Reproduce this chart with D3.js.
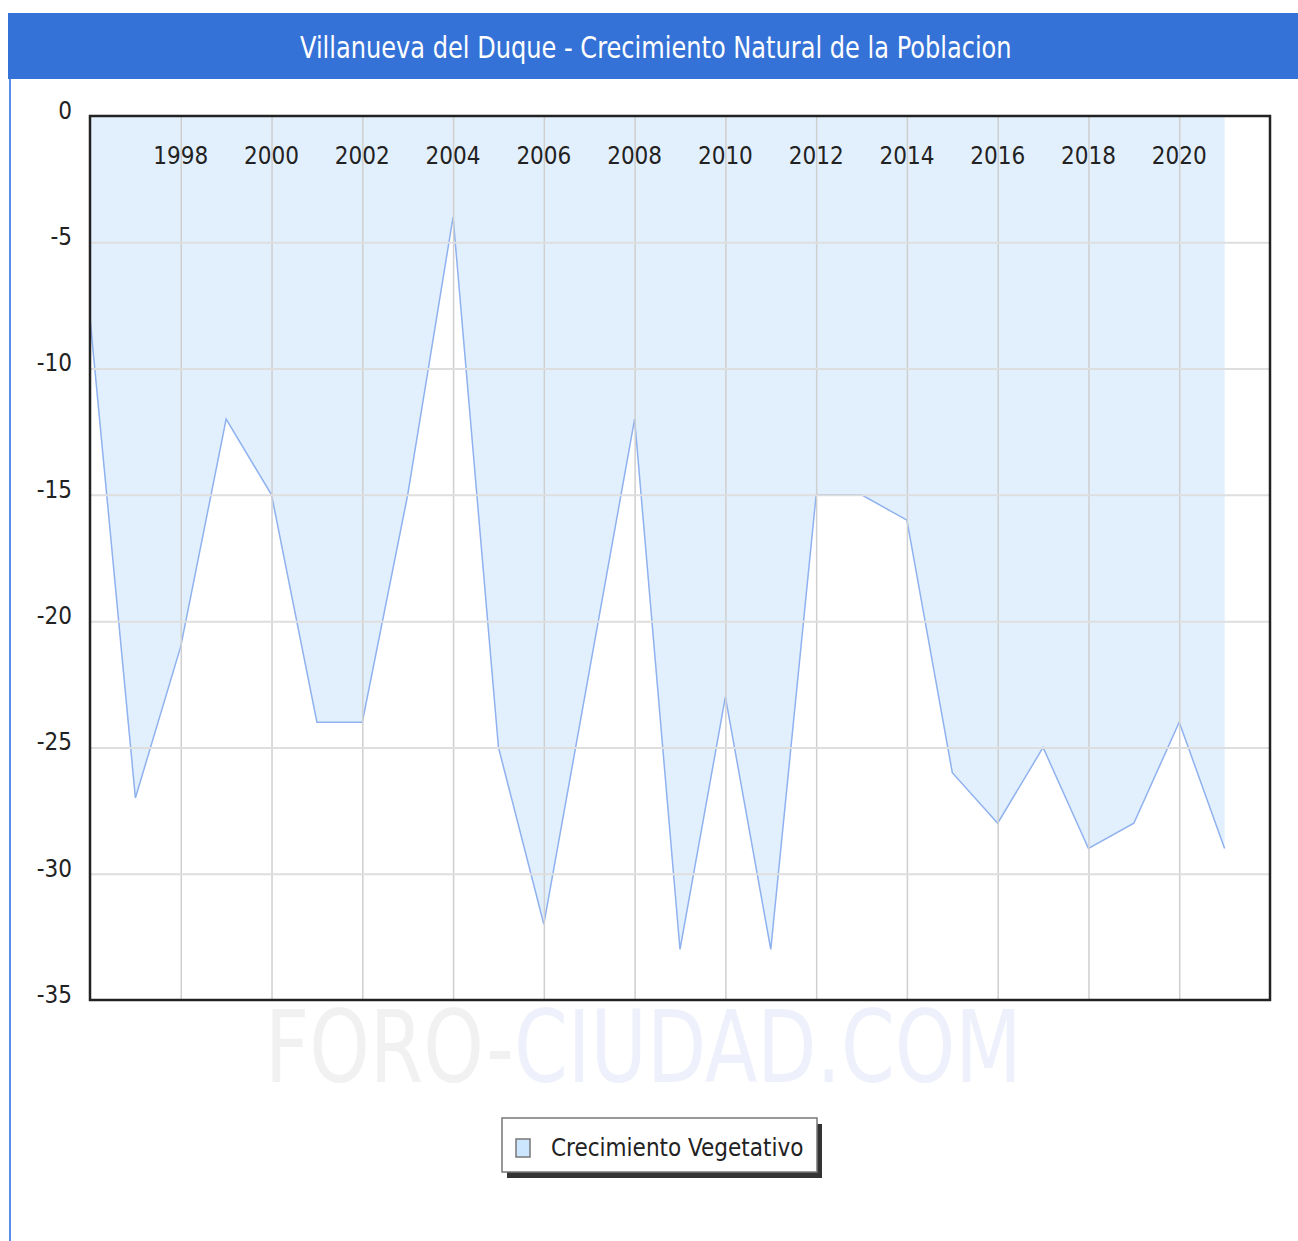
<!DOCTYPE html>
<html>
<head>
<meta charset="utf-8">
<script src="https://cdn.jsdelivr.net/npm/d3@7"></script>
<style>
    body { margin: 0; background: #fff; }
    text { font-family: "DejaVu Sans Condensed", "DejaVu Sans", sans-serif; font-stretch: condensed; }
</style>
</head>
<body>
<div id="svg-container"></div>
<script>
// data
const years = [1996, 1997, 1998, 1999, 2000, 2001, 2002, 2003, 2004, 2005, 2006, 2007, 2008,
    2009, 2010, 2011, 2012, 2013, 2014, 2015, 2016, 2017, 2018, 2019, 2020, 2021];
const crecimiento = [-8, -27, -21, -12, -15, -24, -24, -15, -4, -25, -32, -22, -12,
    -33, -23, -33, -15, -15, -16, -26, -28, -25, -29, -28, -24, -29];
const yearTicks = [1998, 2000, 2002, 2004, 2006, 2008, 2010, 2012, 2014, 2016, 2018, 2020];
const valueTicks = [0, -5, -10, -15, -20, -25, -30, -35];
const title = "Villanueva del Duque - Crecimiento Natural de la Poblacion";
const seriesName = "Crecimiento Vegetativo";

const width = 1298,
    height = 1241,
    plot = { left: 90, top: 116, right: 1270, bottom: 1000 };

const svg = d3.select("#svg-container").append("svg")
    .attr("width", width)
    .attr("height", height);

// squeeze a text horizontally to a given width (condensed look)
const squeeze = (sel, x0, y0, w) => {
    const len = sel.node().getComputedTextLength();
    sel.attr("transform", `translate(${x0},${y0}) scale(${w / len},1)`);
};

// title bar
svg.append("rect")
    .attr("x", 8).attr("y", 13)
    .attr("width", width - 8).attr("height", 66)
    .attr("fill", "#3572d7");
svg.append("line")
    .attr("x1", 10).attr("x2", 10)
    .attr("y1", 79).attr("y2", height)
    .attr("stroke", "#5b8fe6").attr("stroke-width", 2);
const tt = svg.append("text")
    .attr("fill", "#fff")
    .style("font-size", "30px")
    .text(title);
squeeze(tt, 300, 58, 712);

// scales
const x = d3.scaleLinear().domain([1996, 2022]).range([plot.left, plot.right]);
const y = d3.scaleLinear().domain([0, -35]).range([plot.top, plot.bottom]);

// watermark, two tints in one text
const wm = svg.append("text")
    .style("font-size", "100px");
wm.append("tspan").attr("fill", "#f1f1f1").text("FORO-");
wm.append("tspan").attr("fill", "#eef0fb").text("CIUDAD.COM");
squeeze(wm, 265, 1082, 757);

// filled area between 0 and the series
const pts = years.map((yr, i) => ({ yr: yr, v: crecimiento[i] }));
const area = d3.area()
    .x(d => x(d.yr))
    .y0(y(0))
    .y1(d => y(d.v));
svg.append("path")
    .datum(pts)
    .attr("d", area)
    .attr("fill", "#e2f0fe");

// series line
const line = d3.line()
    .x(d => x(d.yr))
    .y(d => y(d.v));
svg.append("path")
    .datum(pts)
    .attr("d", line)
    .attr("fill", "none")
    .attr("stroke", "#8fb1ef")
    .attr("stroke-width", 1.5);

// grid (drawn over the line like the original)
svg.append("g")
    .attr("transform", `translate(0,${plot.bottom})`)
    .call(d3.axisBottom(x).tickValues(yearTicks).tickSize(-(plot.bottom - plot.top)).tickFormat(""))
    .call(g => g.select(".domain").remove())
    .call(g => g.selectAll("line").attr("stroke", "#cfcfcf").attr("stroke-width", 1.5));
svg.append("g")
    .attr("transform", `translate(${plot.left},0)`)
    .call(d3.axisLeft(y).tickValues(valueTicks.slice(1, -1)).tickSize(-(plot.right - plot.left)).tickFormat(""))
    .call(g => g.select(".domain").remove())
    .call(g => g.selectAll("line").attr("stroke", "#dedede").attr("stroke-width", 2));

// plot frame
svg.append("rect")
    .attr("x", plot.left).attr("y", plot.top)
    .attr("width", plot.right - plot.left)
    .attr("height", plot.bottom - plot.top)
    .attr("fill", "none")
    .attr("stroke", "#222")
    .attr("stroke-width", 2.5);

// y labels, plain hyphen like the original
svg.append("g")
    .attr("transform", `translate(${plot.left},0)`)
    .call(d3.axisLeft(y).tickValues(valueTicks).tickSize(0).tickPadding(18).tickFormat(d => String(d)))
    .call(g => g.select(".domain").remove())
    .call(g => g.selectAll("text")
        .attr("fill", "#222")
        .style("font-size", "24px")
        .attr("dy", "0.1em"));

// x labels, inside the plot near the top
svg.append("g")
    .selectAll("text")
    .data(yearTicks)
    .join("text")
    .attr("x", d => x(d))
    .attr("y", 164)
    .attr("text-anchor", "middle")
    .attr("fill", "#222")
    .style("font-size", "24px")
    .text(d => d);

// legend
const lg = svg.append("g");
lg.append("rect")
    .attr("x", 507).attr("y", 1124)
    .attr("width", 315).attr("height", 54)
    .attr("fill", "#333");
lg.append("rect")
    .attr("x", 502).attr("y", 1118)
    .attr("width", 315).attr("height", 54)
    .attr("fill", "#fff")
    .attr("stroke", "#777").attr("stroke-width", 1.5);
lg.append("rect")
    .attr("x", 516).attr("y", 1139)
    .attr("width", 14).attr("height", 18)
    .attr("fill", "#cce6ff")
    .attr("stroke", "#777").attr("stroke-width", 1.5);
lg.append("text")
    .attr("x", 551).attr("y", 1156)
    .attr("fill", "#222")
    .style("font-size", "24px")
    .text(seriesName);
</script>
</body>
</html>
